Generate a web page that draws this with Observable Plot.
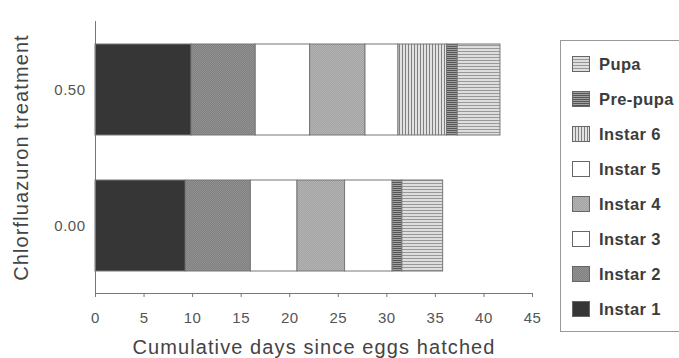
<!DOCTYPE html>
<html>
<head>
<meta charset="utf-8">
<script src="https://cdn.jsdelivr.net/npm/d3@7"></script>
<script src="https://cdn.jsdelivr.net/npm/@observablehq/plot@0.6"></script>
<style>
  html, body { margin: 0; padding: 0; background: #fff; }
  #wrap { position: relative; width: 679px; height: 358px; overflow: hidden; font-family: "Liberation Sans", Arial, sans-serif; }
  #legend { position: absolute; left: 560px; top: 40px; width: 140px; height: 292px; border: 1px solid #999; box-sizing: border-box; }
  .item { position: absolute; left: 11px; height: 20px; display: flex; align-items: center; font-size: 16.5px; letter-spacing: 0.4px; color: #3c3c3c; font-weight: bold; white-space: nowrap; }
  .item svg { margin-right: 9px; }
  svg g[aria-label="x-axis label"] text, svg g[aria-label="y-axis label"] text { font-size: 20px; letter-spacing: 1.1px; fill: #444; }
  svg g[aria-label="x-axis tick label"] text, svg g[aria-label="y-axis tick label"] text { font-size: 15px; letter-spacing: 0.5px; fill: #555; }
</style>
</head>
<body>
<div id="wrap"><div id="chart"></div><div id="legend"></div></div>
<script>
// ---- data ----
const treatments = ["0.50", "0.00"];
const stages = ["Instar 1", "Instar 2", "Instar 3", "Instar 4", "Instar 5", "Instar 6", "Pre-pupa", "Pupa"];
// cumulative end day of each stage
const cumEnd050 = [9.9, 16.5, 22.1, 27.8, 31.2, 36.2, 37.3, 41.7];
const cumEnd000 = [9.3, 16.0, 20.8, 25.7, 30.6, 30.6, 31.6, 35.8];
const xTicks = [0, 5, 10, 15, 20, 25, 30, 35, 40, 45];
const patternIds = ["p-i1", "p-i2", "p-i3", "p-i4", "p-i5", "p-i6", "p-pp", "p-pu"];

// ---- patterns (defined once in a hidden svg) ----
const defsSvg = d3.select("body").append("svg").attr("width", 0).attr("height", 0).style("position", "absolute");
const defs = defsSvg.append("defs");
function solid(id, c) {
  const p = defs.append("pattern").attr("id", id).attr("patternUnits", "userSpaceOnUse").attr("width", 4).attr("height", 4);
  p.append("rect").attr("width", 4).attr("height", 4).attr("fill", c);
}
function diag(id, bg, fg) {
  const p = defs.append("pattern").attr("id", id).attr("patternUnits", "userSpaceOnUse").attr("width", 2).attr("height", 2);
  p.append("rect").attr("width", 2).attr("height", 2).attr("fill", bg);
  p.append("path").attr("d", "M0,2 L2,0").attr("stroke", fg).attr("stroke-width", 0.6);
}
function lines(id, bg, fg, step, vertical, w) {
  const p = defs.append("pattern").attr("id", id).attr("patternUnits", "userSpaceOnUse").attr("width", step).attr("height", step);
  p.append("rect").attr("width", step).attr("height", step).attr("fill", bg);
  if (vertical) p.append("rect").attr("x", 0).attr("y", 0).attr("width", w).attr("height", step).attr("fill", fg);
  else p.append("rect").attr("x", 0).attr("y", 0).attr("width", step).attr("height", w).attr("fill", fg);
}
solid("p-i1", "#363636");
diag("p-i2", "#929292", "#727272");
solid("p-i3", "#ffffff");
diag("p-i4", "#b4b4b4", "#969696");
solid("p-i5", "#ffffff");
lines("p-i6", "#e2e2e2", "#808080", 3, true, 1);
lines("p-pp", "#a0a0a0", "#555555", 2, false, 1);
lines("p-pu", "#dedede", "#989898", 3, false, 1);

// ---- rows ----
const rows = [];
[[treatments[0], cumEnd050], [treatments[1], cumEnd000]].forEach(([t, ends]) => {
  ends.forEach((e, i) => {
    const s = i === 0 ? 0 : ends[i - 1];
    if (e > s) rows.push({treatment: t, stage: stages[i], x1: s, x2: e, fill: `url(#${patternIds[i]})`});
  });
});

const plot = Plot.plot({
  width: 679,
  height: 358,
  marginLeft: 95,
  marginRight: 147,
  marginTop: 21,
  marginBottom: 65,
  style: {fontFamily: "'Liberation Sans', Arial, sans-serif", fontSize: "15px", color: "#444", background: "transparent"},
  x: {domain: [0, 45]},
  y: {domain: treatments, paddingInner: 0.332, paddingOuter: 0.16},
  color: {type: "identity"},
  marks: [
    Plot.barX(rows, {x1: "x1", x2: "x2", y: "treatment", fill: "fill", stroke: "#777", strokeWidth: 1}),
    Plot.ruleX([0], {stroke: "#777"}),
    Plot.frame({anchor: "bottom", stroke: "#777"}),
    Plot.axisX({ticks: xTicks, tickSize: 4, tickPadding: 15, fontSize: 15, stroke: "#777", label: "Cumulative days since eggs hatched", labelAnchor: "center", labelOffset: 60, labelArrow: "none"}),
    Plot.axisY({tickSize: 0, tickPadding: 10, fontSize: 15, label: "Chlorfluazuron treatment", labelAnchor: "center", labelOffset: 82, labelArrow: "none"})
  ]
});
document.getElementById("chart").appendChild(plot);

// ---- legend ----
const legendOrder = stages.map((s, i) => ({stage: s, id: patternIds[i]})).reverse();
const leg = d3.select("#legend");
legendOrder.forEach((d, i) => {
  const it = leg.append("div").attr("class", "item").style("top", (13 + i * 35) + "px");
  const sw = it.append("svg").attr("width", 18).attr("height", 16);
  sw.append("rect").attr("x", 0.5).attr("y", 0.5).attr("width", 17).attr("height", 15)
    .attr("fill", `url(#${d.id})`).attr("stroke", "#666");
  it.append("span").text(d.stage);
});
</script>
</body>
</html>
